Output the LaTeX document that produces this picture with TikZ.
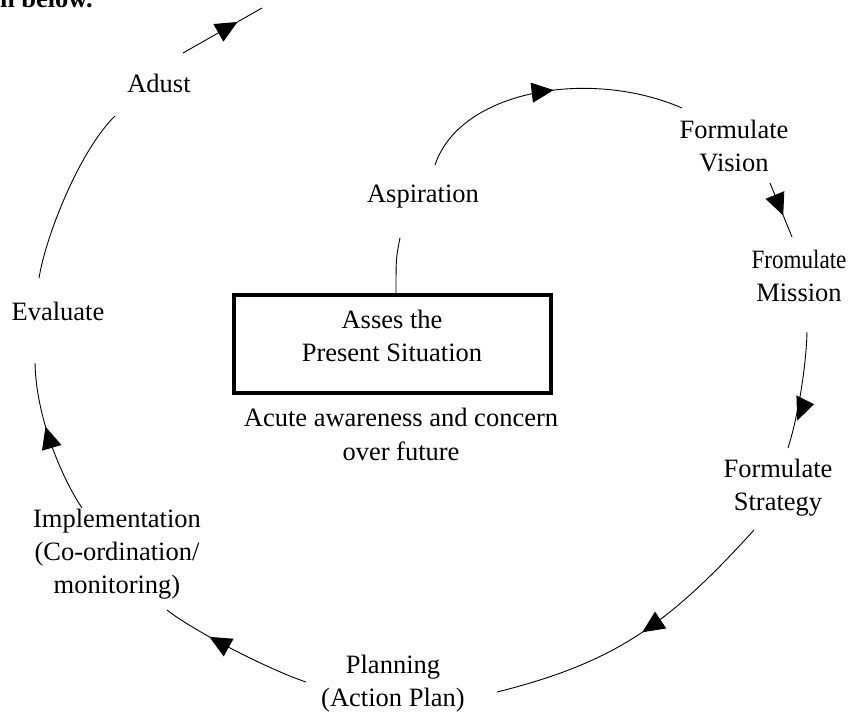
\documentclass[tikz,border=0pt]{standalone}
\usepackage{fontspec}
\setmainfont{Liberation Serif}
\usetikzlibrary{arrows.meta,decorations.markings}
\begin{document}
\begin{tikzpicture}[x=1pt,y=-1pt,
  lbl/.style={inner sep=0pt,font=\fontsize{26.5}{33}\selectfont,align=center},
  flow/.style={line width=0.9pt},
  headat/.style={postaction={decorate,decoration={markings,
      mark=at position #1 with {\arrow{Triangle[length=22pt,width=20pt]}}}}},
  skewhead/.style={postaction={decorate,decoration={markings,
      mark=at position #1 with {\fill (11.9,-1.8) -- (-12.6,3.9) -- (-7.4,-15.1) -- cycle;}}}},
]
\useasboundingbox (0,0) rectangle (848,713);
\clip (0,0) rectangle (848,713);

% tail of the sentence above the figure
\node[lbl,anchor=base east,font=\bfseries\fontsize{26.5}{33}\selectfont] (intro) at (93,7) {shown below.};

% stages of the cycle
\node[lbl,anchor=base]  (adust)          at (159,92)  {Adust};
\node[lbl,anchor=base]  (aspiration)     at (423,202) {Aspiration};
\node[lbl,anchor=north] (vision)         at (734,120) {Formulate\\Vision};
\node[lbl,anchor=north] (mission)        at (799,250) {\scalebox{0.87}[1]{Fromulate}\\Mission};
\node[lbl,anchor=north] (strategy)       at (778,459) {Formulate\\Strategy};
\node[lbl,anchor=north] (planning)       at (393,655) {Planning\\(Action Plan)};
\node[lbl,anchor=north] (implementation) at (117,509) {Implementation\\(Co-ordination/\\monitoring)};
\node[lbl,anchor=base]  (evaluate)       at (58,320)  {Evaluate};

% starting point in the centre
\node[draw,line width=4pt,minimum width=317.6pt,minimum height=97.7pt,inner sep=0pt]
  (present) at (392.5,344.2) {};
\node[lbl,anchor=north] (presentlabel) at (392,310) {Asses the\\Present Situation};
\node[lbl,anchor=north,font=\fontsize{26.5}{34}\selectfont] (concern) at (401,408)
  {Acute awareness and concern\\over future};

% the spiral, running outwards
\draw[flow] ([shift={(3.5,0)}]present.north) .. controls (396,258) .. ([shift={(-23,36)}]aspiration.base);
\draw[flow,headat=0.53] ([shift={(12,-37)}]aspiration.base)
  .. controls (460,90) and (590,68) .. ([shift={(-52,-12)}]vision.north);
\draw[flow,headat=0.6] ([shift={(36,63)}]vision.north) -- ([shift={(-7,-13)}]mission.north);
\draw[flow,skewhead=0.655] ([shift={(8,82)}]mission.north)
  .. controls (806,370) and (797,420) .. ([shift={(10,-11)}]strategy.north);
\draw[flow,headat=0.49] ([shift={(-24,71)}]strategy.north)
  .. controls (667,626) and (613,663) .. ([shift={(104,37)}]planning.north);
\draw[flow,headat=0.68] ([shift={(-87,27)}]planning.north)
  .. controls (270,670) and (195,632) .. ([shift={(50,101)}]implementation.north);
\draw[flow,headat=0.58] ([shift={(-35,-1)}]implementation.north)
  .. controls (60,475) and (36,415) .. ([shift={(-23,43)}]evaluate.base);
\draw[flow] ([shift={(-19,-42)}]evaluate.base)
  .. controls (46,235) and (80,150) .. ([shift={(-44,24)}]adust.base);
\coordinate (topend) at (262,8);
\draw[flow,headat=0.69] ([shift={(24,-39)}]adust.base) -- (topend);
\end{tikzpicture}
\end{document}
